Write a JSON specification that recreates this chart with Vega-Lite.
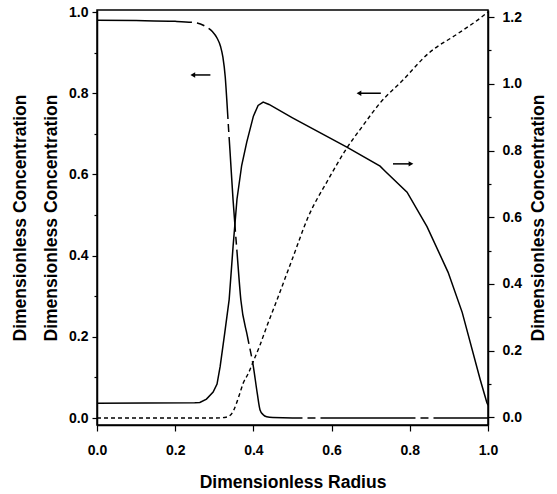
{
  "$schema": "https://vega.github.io/schema/vega-lite/v6.json",
  "autosize": {"type": "none"},
  "width": 391,
  "height": 415,
  "padding": {"left": 97, "top": 10, "right": 69, "bottom": 69},
  "background": "white",
  "config": {
    "view": {"stroke": "black", "strokeWidth": 1.5},
    "axis": {
      "labelFont": "Liberation Sans", "labelFontWeight": "bold", "labelFontSize": 14, "labelColor": "black",
      "titleFont": "Liberation Sans", "titleFontWeight": "bold", "titleFontSize": 17.5, "titleColor": "black",
      "domainColor": "black", "domainWidth": 1.5, "tickColor": "black", "tickWidth": 1.2, "grid": false,
      "labelFlush": false
    }
  },
  "datasets": {
    "dashed": [
      {"x": 0, "y": 0.98}, {"x": 0.1, "y": 0.979}, {"x": 0.2, "y": 0.977}, {"x": 0.256, "y": 0.973},
      {"x": 0.28, "y": 0.963}, {"x": 0.295, "y": 0.952}, {"x": 0.307, "y": 0.936}, {"x": 0.316, "y": 0.915},
      {"x": 0.322, "y": 0.889}, {"x": 0.328, "y": 0.84}, {"x": 0.332, "y": 0.783}, {"x": 0.336, "y": 0.72},
      {"x": 0.34, "y": 0.66}, {"x": 0.348, "y": 0.537}, {"x": 0.358, "y": 0.41}, {"x": 0.368, "y": 0.29},
      {"x": 0.385, "y": 0.2}, {"x": 0.4, "y": 0.126}, {"x": 0.41, "y": 0.06}, {"x": 0.417, "y": 0.02},
      {"x": 0.425, "y": 0.008}, {"x": 0.434, "y": 0.003}, {"x": 0.45, "y": 0.001}, {"x": 0.5, "y": 0.0},
      {"x": 1.0, "y": 0.0}
    ],
    "dotted": [
      {"x": 0, "y": 0}, {"x": 0.3, "y": 0}, {"x": 0.33, "y": 0.002}, {"x": 0.34, "y": 0.006},
      {"x": 0.35, "y": 0.02}, {"x": 0.357, "y": 0.037}, {"x": 0.365, "y": 0.06}, {"x": 0.374, "y": 0.086},
      {"x": 0.387, "y": 0.11}, {"x": 0.4, "y": 0.14}, {"x": 0.417, "y": 0.18}, {"x": 0.434, "y": 0.225},
      {"x": 0.46, "y": 0.29}, {"x": 0.5, "y": 0.393}, {"x": 0.54, "y": 0.495}, {"x": 0.59, "y": 0.585},
      {"x": 0.639, "y": 0.665}, {"x": 0.68, "y": 0.72}, {"x": 0.724, "y": 0.776}, {"x": 0.78, "y": 0.83},
      {"x": 0.85, "y": 0.9}, {"x": 0.92, "y": 0.945}, {"x": 0.98, "y": 0.985}, {"x": 1.0, "y": 1.0}
    ],
    "solid": [
      {"x": 0, "y": 0.043}, {"x": 0.25, "y": 0.044}, {"x": 0.263, "y": 0.045}, {"x": 0.28, "y": 0.055},
      {"x": 0.297, "y": 0.076}, {"x": 0.307, "y": 0.1}, {"x": 0.315, "y": 0.153}, {"x": 0.327, "y": 0.256},
      {"x": 0.338, "y": 0.353}, {"x": 0.348, "y": 0.512}, {"x": 0.358, "y": 0.654}, {"x": 0.37, "y": 0.755},
      {"x": 0.383, "y": 0.825}, {"x": 0.4, "y": 0.903}, {"x": 0.412, "y": 0.935}, {"x": 0.425, "y": 0.945},
      {"x": 0.44, "y": 0.938}, {"x": 0.5, "y": 0.898}, {"x": 0.639, "y": 0.81}, {"x": 0.724, "y": 0.753},
      {"x": 0.737, "y": 0.738}, {"x": 0.793, "y": 0.675}, {"x": 0.844, "y": 0.572}, {"x": 0.898, "y": 0.435},
      {"x": 0.934, "y": 0.315}, {"x": 0.98, "y": 0.114}, {"x": 0.997, "y": 0.045}, {"x": 1.0, "y": 0.037}
    ],
    "arrows": [
      {"x": 0.29, "x2": 0.245, "y": 0.845, "shape": "triangle-left"},
      {"x": 0.726, "x2": 0.67, "y": 0.8, "shape": "triangle-left"},
      {"x": 0.757, "x2": 0.803, "y": 0.626, "shape": "triangle-right"}
    ]
  },
  "layer": [
    {
      "layer": [
        {
          "data": {"name": "dashed"},
          "mark": {"type": "line", "color": "black", "strokeWidth": 1.5, "strokeDash": [95, 5, 8, 5], "clip": true, "interpolate": "monotone"},
          "encoding": {
            "x": {"field": "x", "type": "quantitative", "scale": {"domain": [0, 1], "nice": false},
              "axis": {"title": "Dimensionless Radius", "values": [0, 0.1, 0.2, 0.3, 0.4, 0.5, 0.6, 0.7, 0.8, 0.9, 1.0],
                "labelExpr": "round(datum.value*10) % 2 == 0 ? format(datum.value, '.1f') : ''",
                "tickSize": {"condition": {"test": "round(datum.value*10) % 2 == 0", "value": 6}, "value": 4},
                "labelPadding": 12, "titlePadding": 16}},
            "y": {"field": "y", "type": "quantitative", "scale": {"domain": [-0.0172, 1.005], "nice": false, "zero": false},
              "axis": {"orient": "left", "title": ["Dimensionless Concentration", "Dimensionless Concentration"],
                "titleLineHeight": 31, "values": [0, 0.1, 0.2, 0.3, 0.4, 0.5, 0.6, 0.7, 0.8, 0.9, 1.0],
                "labelExpr": "round(datum.value*10) % 2 == 0 ? format(datum.value, '.1f') : ''",
                "tickSize": {"condition": {"test": "round(datum.value*10) % 2 == 0", "value": 5}, "value": 3},
                "labelPadding": 4, "titlePadding": 8}}
          }
        },
        {
          "data": {"name": "dotted"},
          "mark": {"type": "line", "color": "black", "strokeWidth": 1.4, "strokeDash": [4, 3], "clip": true, "interpolate": "monotone"},
          "encoding": {
            "x": {"field": "x", "type": "quantitative"},
            "y": {"field": "y", "type": "quantitative"}
          }
        },
        {
          "data": {"name": "arrows"},
          "mark": {"type": "rule", "color": "black", "strokeWidth": 1.5},
          "encoding": {
            "x": {"field": "x", "type": "quantitative"},
            "x2": {"field": "x2"},
            "y": {"field": "y", "type": "quantitative"}
          }
        },
        {
          "data": {"name": "arrows"},
          "mark": {"type": "point", "filled": true, "color": "black", "size": 30, "opacity": 1},
          "encoding": {
            "x": {"field": "x2", "type": "quantitative"},
            "y": {"field": "y", "type": "quantitative"},
            "shape": {"field": "shape", "type": "nominal", "scale": null}
          }
        }
      ]
    },
    {
      "data": {"name": "solid"},
      "mark": {"type": "line", "color": "black", "strokeWidth": 1.5, "clip": true},
      "encoding": {
        "x": {"field": "x", "type": "quantitative"},
        "y": {"field": "y", "type": "quantitative", "scale": {"domain": [-0.0225, 1.221], "nice": false, "zero": false},
          "axis": {"orient": "right", "title": "Dimensionless Concentration", "titleAngle": -90, "titleBaseline": "top",
            "values": [0, 0.1, 0.2, 0.3, 0.4, 0.5, 0.6, 0.7, 0.8, 0.9, 1.0, 1.1, 1.2],
            "labelExpr": "round(datum.value*10) % 2 == 0 ? format(datum.value, '.1f') : ''",
            "tickSize": {"condition": {"test": "round(datum.value*10) % 2 == 0", "value": 6}, "value": 3},
            "labelPadding": 8, "titlePadding": 8}}
      }
    }
  ],
  "resolve": {"scale": {"y": "independent"}}
}
